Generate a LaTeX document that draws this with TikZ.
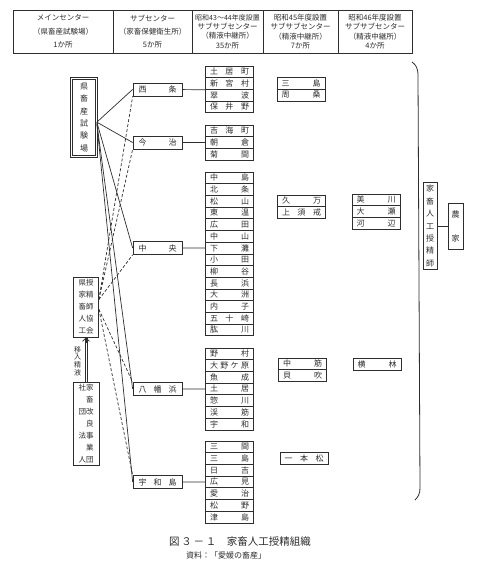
\documentclass[tikz,border=0pt]{standalone}
\usepackage{fontspec}
\setmainfont{Noto Sans CJK JP}
\usetikzlibrary{arrows.meta, positioning}
\definecolor{ink}{HTML}{2E2E2E}
\newcommand{\spr}[2][39pt]{\makebox[#1]{#2}}

\begin{document}
\begin{tikzpicture}[x=1pt, y=-1pt, line width=0.7pt, color=ink,
  hdrbox/.style={draw, minimum height=43pt, inner sep=0pt, align=center,
                 font=\fontsize{7.5}{9.4}\selectfont},
  cellbox/.style={draw, minimum width=48pt, minimum height=11.7pt, inner sep=0pt,
                  font=\fontsize{8}{9}\selectfont},
  subbox/.style={draw, minimum width=49pt, minimum height=13pt, inner sep=0pt,
                 font=\fontsize{8}{9}\selectfont},
  tatebox/.style={draw, align=center, inner sep=0pt, font=\fontsize{8}{12.4}\selectfont},
  weak/.style={dashed, dash pattern=on 3pt off 2pt}]

% Background
\fill[white] (0,0) rectangle (480,570);
\useasboundingbox (0,0) rectangle (480,570);

% =========== HEADER ===========
\node[hdrbox, minimum width=100pt] (hmain) at (63,31.5)
  {メインセンター\\[4pt]（県畜産試験場）\\[4pt]1か所};
\node[hdrbox, minimum width=79pt] (hsub) at (152.5,31.5)
  {サブセンター\\[4pt]（家畜保健衛生所）\\[4pt]5か所};
\node[hdrbox, minimum width=71pt] (hssa) at (227.5,31.5)
  {{\fontsize{7}{9.4}\selectfont 昭和43〜44年度設置}\\サブサブセンター\\（精液中継所）\\35か所};
\node[hdrbox, minimum width=75pt] (hssb) at (300.5,31.5)
  {昭和45年度設置\\サブサブセンター\\（精液中継所）\\7か所};
\node[hdrbox, minimum width=74pt] (hssc) at (375,31.5)
  {昭和46年度設置\\サブサブセンター\\（精液中継所）\\4か所};

% =========== MAIN / SUB CENTERS ===========
\node[tatebox, double, double distance=1.2pt, minimum width=25pt, minimum height=78pt]
  (shiken) at (84,117.5) {県\\畜\\産\\試\\験\\場};

\node[subbox] (saijo) at (157.5,89.4) {\spr[38pt]{西\hfill 条}};
\node[subbox] (imabari) at (157.5,142.5) {\spr[38pt]{今\hfill 治}};
\node[subbox] (chuo) at (157.5,248) {\spr[38pt]{中\hfill 央}};
\node[subbox] (yawata) at (157.5,389) {\spr[38pt]{八\hfill 幡\hfill 浜}};
\node[subbox] (uwa) at (157.5,482) {\spr[38pt]{宇\hfill 和\hfill 島}};

% =========== SUB-SUB CENTERS (S43-44) ===========
\foreach \nm [count=\i] in {土\hfill 居\hfill 町, 新\hfill 宮\hfill 村, 翠\hfill 波, 保\hfill 井\hfill 野}
  \node[cellbox] (sa\i) at (229.5,60.15+11.7*\i) {\spr{\nm}};
\foreach \nm [count=\i] in {吉\hfill 海\hfill 町, 朝\hfill 倉, 菊\hfill 間}
  \node[cellbox] (im\i) at (229.5,119.15+11.7*\i) {\spr{\nm}};
\foreach \nm [count=\i] in {中\hfill 島, 北\hfill 条, 松\hfill 山, 東\hfill 温, 広\hfill 田,
    中\hfill 山, 下\hfill 灘, 小\hfill 田, 柳\hfill 谷, 長\hfill 浜, 大\hfill 洲,
    内\hfill 子, 五\hfill 十\hfill 崎, 肱\hfill 川}
  \node[cellbox] (ch\i) at (229.5,166.15+11.7*\i) {\spr{\nm}};
\foreach \nm [count=\i] in {野\hfill 村, 大\hfill 野\hfill ケ\hfill 原, 魚\hfill 成, 土\hfill 居,
    惣\hfill 川, 渓\hfill 筋, 宇\hfill 和}
  \node[cellbox] (ya\i) at (229.5,342.15+11.7*\i) {\spr{\nm}};
\foreach \nm [count=\i] in {三\hfill 間, 三\hfill 島, 日\hfill 吉, 広\hfill 見, 愛\hfill 治,
    松\hfill 野, 津\hfill 島}
  \node[cellbox] (uw\i) at (229.5,435.15+11.7*\i) {\spr{\nm}};

\draw (saijo) -- (sa2.south west);
\draw (imabari) -- (im2);
\draw (chuo) -- (ch7);
\draw (yawata) -- (ya4);
\draw (uwa) -- (uw4);

% =========== SUB-SUB CENTERS (S45, S46) ===========
\foreach \nm [count=\i] in {三\hfill 島, 周\hfill 桑}
  \node[cellbox] (pa\i) at (301,71.7+11.7*\i) {\spr{\nm}};
\foreach \nm [count=\i] in {久\hfill 万, 上\hfill 須\hfill 戒}
  \node[cellbox] (pb\i) at (301.5,189.15+11.7*\i) {\spr{\nm}};
\foreach \nm [count=\i] in {中\hfill 筋, 貝\hfill 吹}
  \node[cellbox] (pc\i) at (302.5,352.15+11.7*\i) {\spr{\nm}};
\node[cellbox] (pd1) at (304,458) {\spr{一\hfill 本\hfill 松}};

\foreach \nm [count=\i] in {美\hfill 川, 大\hfill 瀬, 河\hfill 辺}
  \node[cellbox] (qa\i) at (376,188.15+11.7*\i) {\spr{\nm}};
\node[cellbox] (qb1) at (377,364) {\spr{横\hfill 林}};

% =========== LINKS FROM MAIN CENTER ===========
\draw (shiken.-20) -- (saijo.west);
\draw (shiken.-20) -- (imabari.west);
\draw (shiken.-20) -- (chuo.west);
\draw (shiken.-25) -- (yawata.west);
\draw (shiken.-25) -- (uwa.west);

% =========== ASSOCIATION ===========
\node[tatebox, minimum width=25pt, minimum height=60pt, font=\fontsize{7.5}{12}\selectfont]
  (kyokai) at (86,307) {県授\\家精\\畜師\\人協\\工会};
\node[tatebox, minimum width=26pt, minimum height=83pt, font=\fontsize{7.5}{11.9}\selectfont]
  (jigyodan) at (86,423.5)
  {社家\\\phantom{社}畜\\団改\\\phantom{団}良\\法事\\\phantom{法}業\\人団};
% double shaft with open head
\draw ([xshift=-1pt]jigyodan.north) -- ([xshift=-1pt]kyokai.south);
\draw ([xshift=1pt]jigyodan.north) -- ([xshift=1pt]kyokai.south);
\draw[-{Straight Barb[length=3.5pt, width=7pt]}] ([yshift=-6pt]kyokai.south) -- (kyokai.south);
\node[font=\fontsize{7}{7.6}\selectfont, align=center, inner sep=0pt] (inyu) at (77.5,361)
  {移\\入\\精\\液};

\draw[weak] (kyokai.30) -- (saijo.south west);
\draw[weak] (kyokai.30) -- (imabari.south west);
\draw[weak] (kyokai.30) -- (chuo.south west);
\draw[weak] (kyokai.-10) -- (yawata.north west);
\draw[weak] (kyokai.-10) -- (uwa.north west);

% =========== INSEMINATORS / FARMERS ===========
\draw[line width=0.8pt] (412,62) .. controls (416,65) and (418,68) .. (418,76)
  -- (420,488) .. controls (420,494) and (418,497) .. (415,500);
\node[tatebox, minimum width=14pt, minimum height=87pt] (jushi) at (430,226)
  {家\\畜\\人\\工\\授\\精\\師};
\node[tatebox, minimum width=15pt, minimum height=46pt] (nouka) at (455.5,226)
  {農\\[11.6pt]家};
\draw (jushi) -- (nouka);

% Caption
\node[font=\fontsize{10.5}{12}\selectfont] (title) at (240,542)
  {図\,３\,－\,１\quad 家畜人工授精組織};
\node[font=\fontsize{8}{9}\selectfont] (source) at (226,555.5) {資料：「愛媛の畜産」};

\end{tikzpicture}
\end{document}
